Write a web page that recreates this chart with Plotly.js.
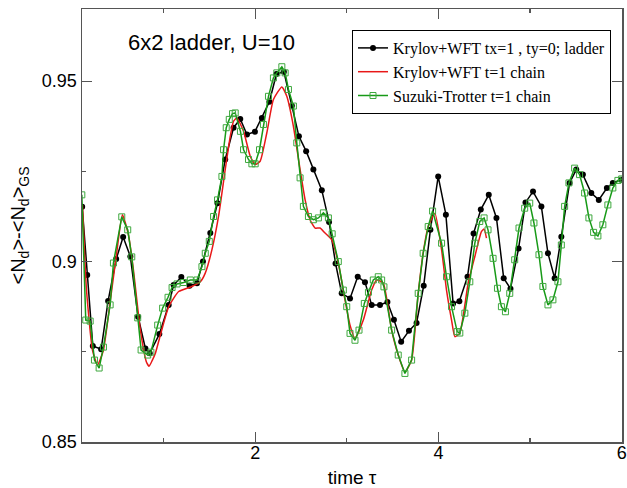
<!DOCTYPE html>
<html>
<head>
<meta charset="utf-8">
<script src="https://cdn.plot.ly/plotly-3.0.1.min.js"></script>
<style>html,body{margin:0;padding:0;background:#fff;}#chart{width:627px;height:488px;}</style>
</head>
<body>
<div id="chart"></div>
<script>
// Krylov+WFT tx=1, ty=0; ladder (black, filled circles)
const ladderT = [0.112,0.167,0.228,0.319,0.395,0.483,0.559,0.638,0.722,0.802,
  0.849,0.954,1.056,1.110,1.194,1.284,1.365,1.430,1.510,1.589,
  1.673,1.764,1.837,1.910,1.997,2.073,2.155,2.232,2.313,2.400,
  2.477,2.556,2.635,2.727,2.806,2.877,2.944,3.035,3.119,3.198,
  3.271,3.362,3.443,3.514,3.593,3.678,3.761,3.839,3.912,3.997,
  4.081,4.160,4.228,4.317,4.383,4.462,4.549,4.633,4.712,4.786,
  4.874,4.950,5.032,5.123,5.195,5.268,5.341,5.431,5.504,5.576,
  5.668,5.750,5.838,5.903,5.995];
const ladderN = [0.9152,0.8963,0.8766,0.8757,0.8891,0.9007,0.9068,0.9014,0.8847,0.8759,
  0.8746,0.8799,0.8880,0.8935,0.8957,0.8933,0.8940,0.9000,0.9079,0.9162,
  0.9283,0.9371,0.9395,0.9352,0.9360,0.9398,0.9443,0.9520,0.9526,0.9432,
  0.9347,0.9306,0.9255,0.9198,0.9110,0.8995,0.8912,0.8898,0.8958,0.8943,
  0.8880,0.8880,0.8888,0.8839,0.8778,0.8808,0.8830,0.8933,0.9088,0.9236,
  0.9130,0.8884,0.8890,0.8958,0.9078,0.9144,0.9185,0.9121,0.8954,0.8925,
  0.9036,0.9164,0.9194,0.9153,0.9023,0.8954,0.9069,0.9218,0.9255,0.9241,
  0.9190,0.9171,0.9204,0.9218,0.9227];

// Krylov+WFT t=1 chain (red line)
const chainKT = [0.115,0.159,0.224,0.279,0.344,0.420,0.486,0.551,0.617,0.671,
  0.747,0.813,0.842,0.878,0.911,0.965,1.056,1.165,1.310,1.401,
  1.455,1.528,1.600,1.673,1.728,1.764,1.801,1.873,1.946,2.000,
  2.054,2.127,2.199,2.291,2.345,2.417,2.490,2.545,2.599,2.654,
  2.708,2.763,2.836,2.907,2.980,3.035,3.089,3.180,3.271,3.326,
  3.398,3.489,3.561,3.634,3.707,3.779,3.833,3.888,3.961,4.034,
  4.088,4.143,4.179,4.233,4.324,4.397,4.469,4.498,4.524];
const chainKN = [0.9157,0.8922,0.8755,0.8713,0.8755,0.8894,0.9019,0.9130,0.9074,0.8977,
  0.8810,0.8722,0.8710,0.8727,0.8746,0.8796,0.8875,0.8917,0.8931,0.8944,
  0.8968,0.9033,0.9125,0.9255,0.9347,0.9389,0.9398,0.9361,0.9292,0.9269,
  0.9278,0.9357,0.9449,0.9484,0.9458,0.9375,0.9255,0.9171,0.9116,0.9093,
  0.9093,0.9079,0.9060,0.8996,0.8894,0.8824,0.8787,0.8838,0.8921,0.8949,
  0.8940,0.8810,0.8741,0.8694,0.8727,0.8912,0.9023,0.9097,0.9134,0.9033,
  0.8921,0.8838,0.8792,0.8802,0.8940,0.9014,0.9083,0.9090,0.9065];

// Suzuki-Trotter t=1 chain (green, open squares)
const chainST = [0.108,0.151,0.199,0.246,0.297,0.344,0.417,0.453,0.544,0.609,
  0.653,0.718,0.755,0.827,0.862,0.936,0.990,1.049,1.093,1.147,
  1.219,1.292,1.365,1.419,1.455,1.499,1.546,1.589,1.637,1.655,
  1.684,1.717,1.753,1.782,1.839,1.873,1.927,1.964,2.000,2.047,
  2.090,2.145,2.199,2.236,2.291,2.327,2.363,2.417,2.454,2.490,
  2.526,2.581,2.635,2.690,2.744,2.799,2.840,2.907,2.962,2.999,
  3.035,3.089,3.133,3.191,3.236,3.289,3.343,3.380,3.405,3.489,
  3.561,3.634,3.707,3.779,3.833,3.888,3.936,4.034,4.088,4.143,
  4.204,4.233,4.288,4.342,4.397,4.451,4.498,4.541,4.596,4.644,
  4.687,4.731,4.778,4.832,4.879,4.941,4.996,5.042,5.097,5.140,
  5.195,5.249,5.304,5.341,5.377,5.424,5.486,5.540,5.595,5.642,
  5.693,5.740,5.794,5.849,5.903,5.958,6.000];
const chainSN = [0.9185,0.8838,0.8835,0.8727,0.8705,0.8763,0.8880,0.8996,0.9124,0.9088,
  0.9013,0.8844,0.8755,0.8741,0.8749,0.8824,0.8871,0.8901,0.8928,0.8938,
  0.8942,0.8949,0.8949,0.8986,0.9023,0.9056,0.9125,0.9171,0.9236,0.9310,
  0.9371,0.9394,0.9410,0.9412,0.9361,0.9310,0.9283,0.9271,0.9271,0.9310,
  0.9380,0.9458,0.9509,0.9523,0.9540,0.9523,0.9477,0.9431,0.9329,0.9232,
  0.9153,0.9125,0.9116,0.9121,0.9135,0.9121,0.9077,0.9000,0.8921,0.8875,
  0.8801,0.8782,0.8810,0.8884,0.8915,0.8949,0.8958,0.8949,0.8930,0.8810,
  0.8741,0.8690,0.8727,0.8912,0.9023,0.9097,0.9140,0.9051,0.8958,0.8875,
  0.8806,0.8802,0.8857,0.8944,0.9051,0.9111,0.9121,0.9088,0.9009,0.8926,
  0.8875,0.8861,0.8912,0.9005,0.9093,0.9148,0.9162,0.9107,0.9019,0.8931,
  0.8880,0.8894,0.8944,0.9046,0.9153,0.9218,0.9259,0.9241,0.9190,0.9121,
  0.9081,0.9071,0.9102,0.9157,0.9204,0.9225,0.9229];

const seriesNames = ["Krylov+WFT tx=1 , ty=0; ladder", "Krylov+WFT t=1 chain", "Suzuki-Trotter t=1 chain"];
const xTickVals = [2, 4, 6];
const xTickText = ["2", "4", "6"];

const traces = [
  {x: ladderT, y: ladderN, name: seriesNames[0], mode: 'lines+markers', type: 'scatter',
   line: {color: '#000000', width: 1.5}, marker: {symbol: 'circle', size: 6, color: '#000000'}},
  {x: chainKT, y: chainKN, name: seriesNames[1], mode: 'lines', type: 'scatter',
   line: {color: '#e81818', width: 1.5, shape: 'spline', smoothing: 0.5}},
  {x: chainST, y: chainSN, name: seriesNames[2], mode: 'lines+markers', type: 'scatter',
   line: {color: '#179a17', width: 1.5},
   marker: {symbol: 'square-open', size: 6, color: '#3ea83e', line: {width: 1}}}
];

const axisCommon = {
  showgrid: false, zeroline: false, showline: true, linecolor: '#555', linewidth: 1.5,
  mirror: 'allticks', ticks: 'inside', ticklen: 10, tickwidth: 1.2, tickcolor: '#555',
  tickfont: {family: 'Liberation Sans, Arial, sans-serif', size: 18, color: '#000'}
};

const layout = {
  width: 627, height: 488,
  margin: {l: 82, r: 5, t: 9, b: 46},
  paper_bgcolor: '#fff', plot_bgcolor: '#fff',
  showlegend: true,
  xaxis: Object.assign({}, axisCommon, {
    range: [0.11, 6.003], tickmode: 'array', tickvals: xTickVals, ticktext: xTickText,
    ticklabelstandoff: -6,
    minor: {tickmode: 'array', tickvals: [1, 3, 5], ticklen: 4, ticks: 'inside', tickcolor: '#555', tickwidth: 1.2},
    title: {text: 'time τ', font: {family: 'Liberation Sans, Arial, sans-serif', size: 19, color: '#000'}, standoff: 8}
  }),
  yaxis: Object.assign({}, axisCommon, {
    range: [0.85, 0.97], dtick: 0.05, tick0: 0.85,
    minor: {dtick: 0.025, ticklen: 4, ticks: 'inside', tickcolor: '#555', tickwidth: 1.2},
    title: {text: '&lt;N<sub>d</sub>&gt;-&lt;N<sub>d</sub>&gt;<sub>GS</sub>', font: {family: 'Liberation Sans, Arial, sans-serif', size: 20, color: '#000'}, standoff: 11}
  }),
  legend: {
    x: 0.5, y: 0.9515, xanchor: 'left', yanchor: 'top',
    bgcolor: '#fff', bordercolor: '#000', borderwidth: 1,
    font: {family: 'Liberation Serif, Times New Roman, serif', size: 16, color: '#000'},
    tracegroupgap: 0, itemwidth: 30
  },
  annotations: [{
    text: '6x2 ladder, U=10', xref: 'paper', yref: 'paper', x: 0.2407, y: 0.9215,
    xanchor: 'center', yanchor: 'middle', showarrow: false,
    font: {family: 'Liberation Sans, Arial, sans-serif', size: 22, color: '#000'}
  }]
};

Plotly.newPlot('chart', traces, layout, {displayModeBar: false, staticPlot: true});
</script>
</body>
</html>
